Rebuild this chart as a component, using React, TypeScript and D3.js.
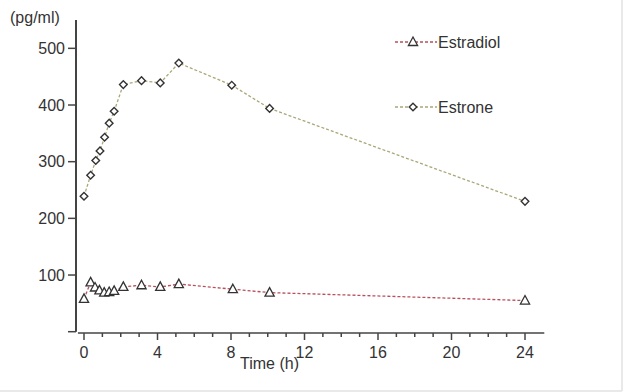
import React from "react";
import * as d3 from "d3";

const estroneTime = [0, 0.36, 0.64, 0.87, 1.12, 1.37, 1.64, 2.14, 3.13, 4.15, 5.16, 8.04, 10.1, 24];
const estroneValue = [239, 276, 302, 319, 343, 368, 389, 436, 443, 439, 474, 435, 394, 230];
const estradiolTime = [0, 0.36, 0.6, 0.84, 1.1, 1.37, 1.64, 2.14, 3.13, 4.15, 5.16, 8.1, 10.1, 24];
const estradiolValue = [58, 87, 78, 73, 69, 70, 72, 79, 82, 79, 84, 75, 69, 55];
const xTicks = [0, 4, 8, 12, 16, 20, 24];
const xMinorTicks = d3.range(0, 25, 1);
const yTicks = [100, 200, 300, 400, 500];

const W = 624;
const H = 392;
const FONT = "'Liberation Sans', Arial, sans-serif";
const AXIS = "#444";

export default function App() {
  const x = d3.scaleLinear().domain([0, 24]).range([84, 525]);
  const y = d3.scaleLinear().domain([0, 550]).range([331.7, 20]);

  const line = d3
    .line<[number, number]>()
    .x((d) => x(d[0]))
    .y((d) => y(d[1]));

  const estrone: [number, number][] = estroneTime.map((t, i) => [t, estroneValue[i]]);
  const estradiol: [number, number][] = estradiolTime.map((t, i) => [t, estradiolValue[i]]);

  const redC = "#b8505c";
  const olC = "#aaa878";

  const tri = (cx: number, cy: number, k: string | number) => (
    <path
      key={k}
      d={`M${cx},${cy - 5} L${cx + 4.6},${cy + 3.5} L${cx - 4.6},${cy + 3.5} Z`}
      fill="#fff"
      stroke="#333"
      strokeWidth={1.3}
    />
  );
  const dia = (cx: number, cy: number, k: string | number) => (
    <path
      key={k}
      d={`M${cx},${cy - 3.8} L${cx + 3.8},${cy} L${cx},${cy + 3.8} L${cx - 3.8},${cy} Z`}
      fill="#fff"
      stroke="#333"
      strokeWidth={1.4}
    />
  );

  return (
    <svg
      width={W}
      height={H}
      style={{ position: "absolute", left: 0, top: 0, background: "#fff" }}
      fontFamily={FONT}
    >
      <rect x={0} y={0} width={W} height={H} fill="#fff" />
      <line x1={622} y1={0} x2={622} y2={391} stroke="#e2e2e2" strokeWidth={1.5} />
      <line x1={0} y1={391} x2={622} y2={391} stroke="#e2e2e2" strokeWidth={1.5} />

      {/* y axis */}
      <line x1={76} y1={20} x2={76} y2={331.7} stroke={AXIS} strokeWidth={2} />
      {[0, ...yTicks].map((v) => (
        <line key={"yt" + v} x1={68} x2={76} y1={y(v)} y2={y(v)} stroke={AXIS} strokeWidth={1.5} />
      ))}
      {yTicks.map((v) => (
        <text key={"yl" + v} x={65} y={y(v) + 5.5} textAnchor="end" fontSize={16} fill="#333">
          {v}
        </text>
      ))}
      <text x={10} y={23} fontSize={16} fill="#333">
        (pg/ml)
      </text>

      {/* x axis */}
      <line x1={x(-0.33)} x2={x(25.05)} y1={333} y2={333} stroke={AXIS} strokeWidth={1.5} />
      {xMinorTicks.map((t) => (
        <line
          key={"xm" + t}
          x1={x(t)}
          x2={x(t)}
          y1={333}
          y2={xTicks.includes(t) ? 340 : 337}
          stroke={AXIS}
          strokeWidth={1.5}
        />
      ))}
      {xTicks.map((t) => (
        <text key={"xl" + t} x={x(t)} y={358} textAnchor="middle" fontSize={16} fill="#333">
          {t}
        </text>
      ))}
      <text x={240} y={369} fontSize={16} fill="#333">
        Time (h)
      </text>

      {/* series */}
      <path d={line(estrone) || ""} fill="none" stroke={olC} strokeWidth={1.3} strokeDasharray="3,2" />
      <path d={line(estradiol) || ""} fill="none" stroke={redC} strokeWidth={1.3} strokeDasharray="3,2" />
      {estrone.map((d, i) => dia(x(d[0]), y(d[1]), "e" + i))}
      {estradiol.map((d, i) => tri(x(d[0]), y(d[1]), "d" + i))}

      {/* legend */}
      <line x1={395} x2={437} y1={42} y2={42} stroke={redC} strokeWidth={1.3} strokeDasharray="3,2" />
      {tri(413, 42, "lt")}
      <text x={438} y={47.5} fontSize={16} fill="#333">
        Estradiol
      </text>
      <line x1={395} x2={437} y1={107} y2={107} stroke={olC} strokeWidth={1.3} strokeDasharray="3,2" />
      {dia(413, 107, "ld")}
      <text x={438} y={112.5} fontSize={16} fill="#333">
        Estrone
      </text>
    </svg>
  );
}
